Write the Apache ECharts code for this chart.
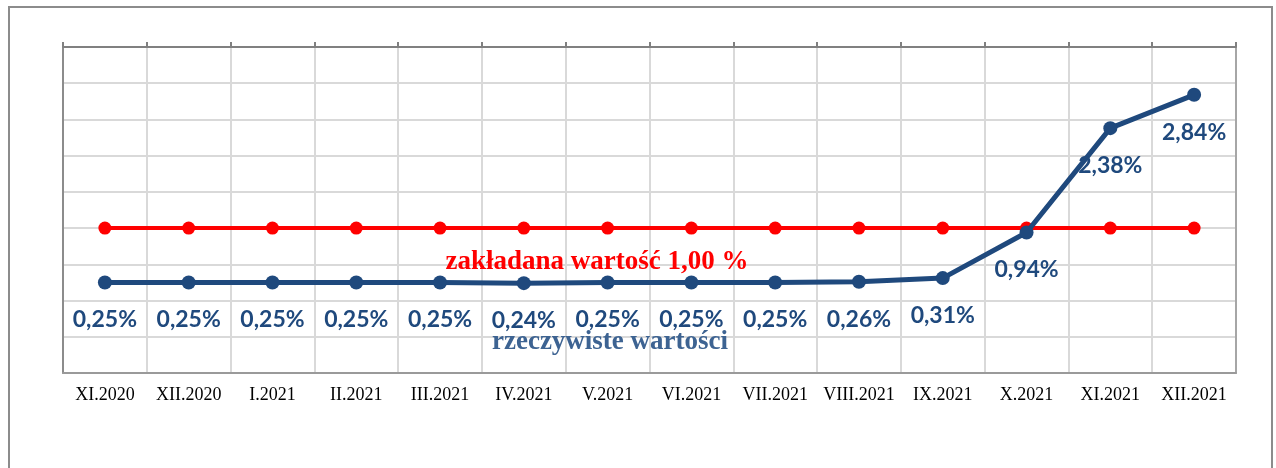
<!DOCTYPE html>
<html>
<head>
<meta charset="utf-8">
<script src="https://cdn.jsdelivr.net/npm/echarts@6/dist/echarts.min.js"></script>
<style>
  html, body { margin: 0; padding: 0; background: #fff; }
  #chart { width: 1276px; height: 468px; }
</style>
</head>
<body>
<div id="chart"></div>
<script>
// miesiące
var months = ['XI.2020', 'XII.2020', 'I.2021', 'II.2021', 'III.2021', 'IV.2021', 'V.2021',
  'VI.2021', 'VII.2021', 'VIII.2021', 'IX.2021', 'X.2021', 'XI.2021', 'XII.2021'];
// rzeczywiste wartości (%)
var actual = [0.25, 0.25, 0.25, 0.25, 0.25, 0.24, 0.25, 0.25, 0.25, 0.26, 0.31, 0.94, 2.38, 2.84];
// zakładana wartość (%)
var target = [1, 1, 1, 1, 1, 1, 1, 1, 1, 1, 1, 1, 1, 1];

var chart = echarts.init(document.getElementById('chart'));

var option = {
  animation: false,
  grid: {
    left: 63,
    right: 40,
    top: 47,
    bottom: 95
  },
  graphic: [
    {
      type: 'rect',
      shape: { x: 9, y: 7, width: 1263, height: 480 },
      style: { fill: 'none', stroke: '#8c8c8c', lineWidth: 2 },
      silent: true
    },
    {
      type: 'text',
      x: 597, y: 262,
      z: 10,
      style: {
        text: 'zakładana wartość 1,00 %',
        fill: '#ff0000',
        fontFamily: 'Liberation Serif',
        fontWeight: 'bold',
        fontSize: 27,
        align: 'center',
        verticalAlign: 'middle'
      }
    },
    {
      type: 'text',
      x: 610, y: 342,
      z: 10,
      style: {
        text: 'rzeczywiste wartości',
        fill: '#3d6392',
        fontFamily: 'Liberation Serif',
        fontWeight: 'bold',
        fontSize: 27,
        align: 'center',
        verticalAlign: 'middle'
      }
    }
  ],
  xAxis: [
    {
      type: 'category',
      data: months,
      boundaryGap: true,
      position: 'bottom',
      axisLine: { onZero: false, lineStyle: { color: '#9a9a9a', width: 2 } },
      axisTick: { show: false },
      axisLabel: {
        color: '#000',
        fontFamily: 'Liberation Serif',
        fontSize: 18,
        margin: 13,
        interval: 0
      },
      splitLine: {
        show: true,
        interval: 0,
        lineStyle: { color: '#d9d9d9', width: 2 }
      }
    },
    {
      type: 'category',
      data: months,
      boundaryGap: true,
      position: 'top',
      axisLine: { onZero: false, lineStyle: { color: '#808080', width: 2 } },
      axisTick: { show: true, interval: 0, length: 5, lineStyle: { color: '#808080', width: 2 } },
      axisLabel: { show: false },
      splitLine: { show: false }
    }
  ],
  yAxis: [
    {
      type: 'value',
      min: -1,
      max: 3.5,
      interval: 0.5,
      axisLine: { show: true, onZero: false, lineStyle: { color: '#8c8c8c', width: 2 } },
      axisTick: { show: false },
      axisLabel: { show: false },
      splitLine: { lineStyle: { color: '#d9d9d9', width: 2 } }
    },
    {
      type: 'value',
      min: -1,
      max: 3.5,
      interval: 0.5,
      position: 'right',
      axisLine: { show: true, onZero: false, lineStyle: { color: '#a6a6a6', width: 2 } },
      axisTick: { show: false },
      axisLabel: { show: false },
      splitLine: { show: false }
    }
  ],
  series: [
    {
      name: 'zakładana',
      type: 'line',
      data: target,
      symbol: 'circle',
      symbolSize: 13,
      itemStyle: { color: '#ff0000' },
      lineStyle: { color: '#ff0000', width: 4 },
      z: 2
    },
    {
      name: 'rzeczywiste',
      type: 'line',
      data: actual,
      symbol: 'circle',
      symbolSize: 14,
      itemStyle: { color: '#1f497d' },
      lineStyle: { color: '#1f497d', width: 5 },
      label: {
        show: true,
        position: 'bottom',
        distance: 19,
        color: '#1f497d',
        fontFamily: 'Lato',
        fontWeight: 'bold',
        fontSize: 23,
        formatter: function (p) {
          return p.value.toFixed(2).replace('.', ',') + '%';
        }
      },
      z: 3
    }
  ]
};

chart.setOption(option);
</script>
</body>
</html>
